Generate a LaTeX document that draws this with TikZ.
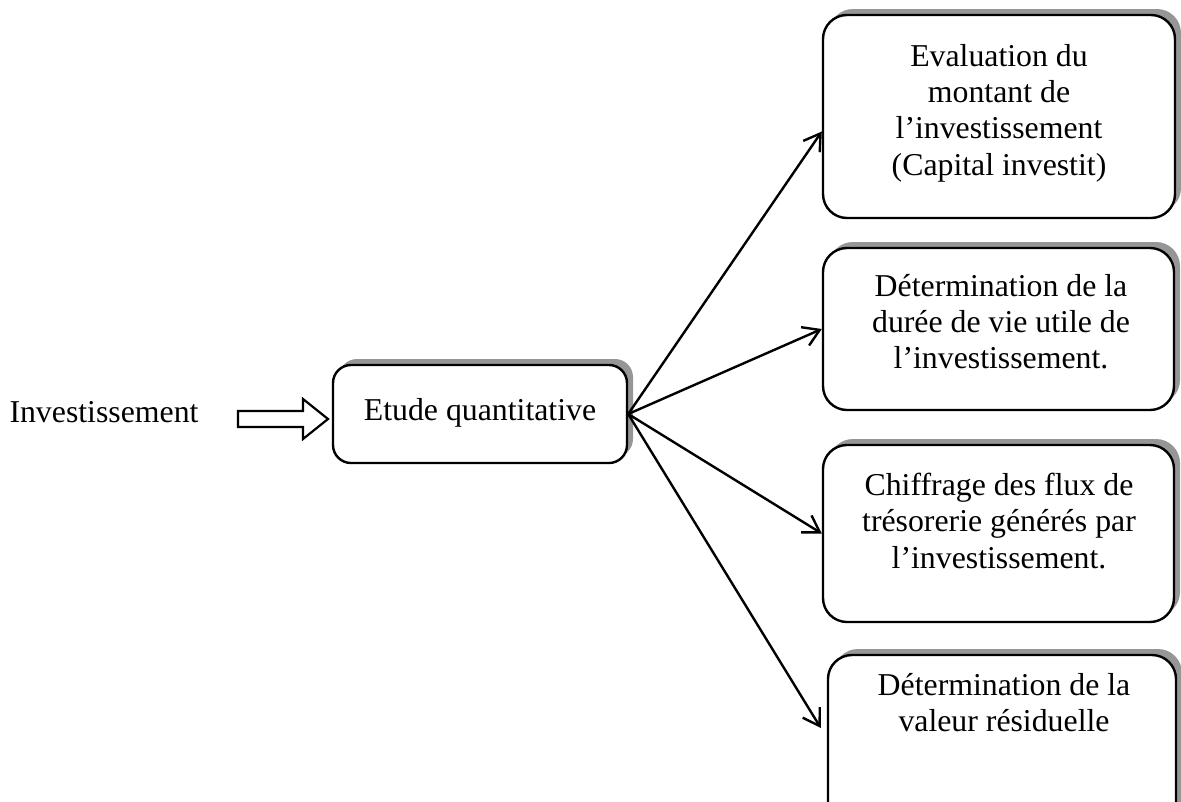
\documentclass[tikz,border=0pt]{standalone}
\usepackage{fontspec}
\setmainfont{Liberation Serif}
\usetikzlibrary{arrows.meta,shadows}
\definecolor{shadowgray}{RGB}{150,150,150}
\tikzset{
  box/.style={draw=black, line width=2.4pt, fill=white, rounded corners=24pt,
    drop shadow={shadow xshift=6pt, shadow yshift=6pt, fill=shadowgray, opacity=1},
    inner sep=0pt},
  txt/.style={inner sep=0pt, align=center, font=\fontsize{31.8}{36.3}\selectfont},
  conn/.style={line width=2.4pt, -{Straight Barb[length=16pt,width=20pt,line width=2.4pt]}},
}
\begin{document}
\begin{tikzpicture}[x=1pt,y=-1pt]
\useasboundingbox (0,0) rectangle (1181,801);
\clip (0,0) rectangle (1181,801);
% boxes
\node[box, rounded corners=18pt, minimum width=294pt, minimum height=98pt] (e) at (480,414) {};
\node[box, minimum width=352pt, minimum height=203pt] (b1) at (999,116.5) {};
\node[box, minimum width=351pt, minimum height=162pt] (b2) at (998.5,329) {};
\node[box, minimum width=351pt, minimum height=177pt] (b3) at (998.5,533.5) {};
\node[box, minimum width=348pt, minimum height=180pt] (b4) at (1002,745) {};
% texts
\node[txt, anchor=base] (inv) at (104,422) {Investissement};
\node[txt, anchor=base] (et) at (480,420) {Etude quantitative};
\node[txt, anchor=north] (t1) at (999,44) {Evaluation du\\montant de\\l’investissement\\(Capital investit)};
\node[txt, anchor=north] (t2) at (1001,274) {Détermination de la\\durée de vie utile de\\l’investissement.};
\node[txt, anchor=north] (t3) at (999,473) {Chiffrage des flux de\\trésorerie générés par\\l’investissement.};
\node[txt, anchor=north] (t4) at (1004,673) {Détermination de la\\valeur résiduelle};
% hollow arrow
\draw[line width=2.2pt, line join=miter, fill=white]
  (238,411) -- (303,411) -- (303,399) -- (328,419) -- (303,439) -- (303,427) -- (238,427) -- cycle;
% connectors
\draw[conn] (e.east) -- ([yshift=-15pt]b1.west);
\draw[conn] (e.east) -- (b2.west);
\draw[conn] (e.east) -- (b3.west);
\draw[conn] (e.east) -- ([xshift=-6pt,yshift=17pt]b4.west);
\end{tikzpicture}
\end{document}
